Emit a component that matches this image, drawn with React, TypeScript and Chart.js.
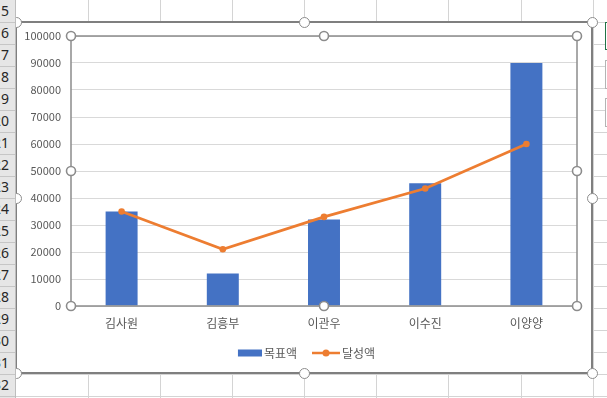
import React, { useEffect, useRef } from "react";
import { Chart, registerables } from "chart.js";

Chart.register(...registerables);

const categories = ["김사원", "김흥부", "이관우", "이수진", "이양양"];
const targetValues = [35000, 12000, 32000, 45500, 90000];
const achievedValues = [35000, 21000, 33000, 43500, 60000];
const seriesNames = ["목표액", "달성액"];
const yMin = 0;
const yMax = 100000;
const yStep = 10000;
const rowNumbers = [15, 16, 17, 18, 19, 20, 21, 22, 23, 24, 25, 26, 27, 28, 29, 30, 31, 32];

const BAR_COLOR = "#4472C4";
const LINE_COLOR = "#ED7D31";
const FONT = "'Noto Sans CJK KR', 'Noto Sans', sans-serif";

const ROW_H = 22;
const COL_LINES = [88, 160, 232, 304, 376, 448, 521, 593];

const plotFrame = {
  id: "plotFrame",
  afterLayout(chart: any) {
    const lg = chart.legend;
    if (lg) {
      lg.left += 9.5;
      lg.right += 9.5;
      lg.top -= 8;
      lg.bottom -= 8;
    }
  },
  afterDraw(chart: any) {
    const { ctx, chartArea: a } = chart;
    ctx.save();
    ctx.strokeStyle = "#8c8c8c";
    ctx.lineWidth = 1.5;
    ctx.strokeRect(a.left, a.top, a.right - a.left, a.bottom - a.top);
    const cx = (a.left + a.right) / 2;
    const cy = (a.top + a.bottom) / 2;
    const pts = [
      [a.left, a.top], [cx, a.top], [a.right, a.top],
      [a.left, cy], [a.right, cy],
      [a.left, a.bottom], [cx, a.bottom], [a.right, a.bottom],
    ];
    for (const [x, y] of pts) {
      ctx.beginPath();
      ctx.arc(x, y, 4.5, 0, Math.PI * 2);
      ctx.fillStyle = "#ffffff";
      ctx.fill();
      ctx.lineWidth = 1.6;
      ctx.strokeStyle = "#8c8c8c";
      ctx.stroke();
    }
    ctx.restore();
  },
};

// legend icons (drawn centred on a 20px legend box)
function makeBarIcon() {
  const c = document.createElement("canvas");
  c.width = 28;
  c.height = 8;
  const g = c.getContext("2d")!;
  g.fillStyle = BAR_COLOR;
  g.fillRect(4, 0.5, 24, 7);
  return c;
}

function makeLineIcon() {
  const c = document.createElement("canvas");
  c.width = 28;
  c.height = 8;
  const g = c.getContext("2d")!;
  g.strokeStyle = LINE_COLOR;
  g.lineWidth = 2.5;
  g.beginPath();
  g.moveTo(0, 4);
  g.lineTo(28, 4);
  g.stroke();
  g.fillStyle = LINE_COLOR;
  g.beginPath();
  g.arc(14, 4, 3.5, 0, Math.PI * 2);
  g.fill();
  return c;
}

function ChartBox() {
  const ref = useRef<HTMLCanvasElement | null>(null);
  useEffect(() => {
    if (!ref.current) return;
    const barIcon = makeBarIcon();
    const lineIcon = makeLineIcon();
    const chart = new Chart(ref.current, {
      type: "bar",
      data: {
        labels: categories,
        datasets: [
          {
            type: "bar",
            label: seriesNames[0],
            data: targetValues,
            backgroundColor: BAR_COLOR,
            borderWidth: 0,
            categoryPercentage: 1,
            barPercentage: 0.316,
            order: 1,
          } as any,
          {
            type: "line",
            label: seriesNames[1],
            data: achievedValues,
            borderColor: LINE_COLOR,
            backgroundColor: LINE_COLOR,
            borderWidth: 2.75,
            pointRadius: 3.3,
            pointBackgroundColor: LINE_COLOR,
            pointBorderWidth: 0,
            tension: 0,
            order: 0,
          } as any,
        ],
      },
      options: {
        animation: false,
        responsive: false,
        maintainAspectRatio: false,
        layout: { padding: { top: 13, right: 14, left: 0, bottom: 0 } },
        font: { family: FONT },
        plugins: {
          tooltip: { enabled: false },
          legend: {
            position: "bottom",
            labels: {
              usePointStyle: true,
              pointStyleWidth: 20,
              padding: 19,
              color: "#595959",
              font: { family: FONT, size: 12 },
              generateLabels: () => [
                { text: seriesNames[0], pointStyle: barIcon as any, datasetIndex: 0, fontColor: "#595959", hidden: false, lineWidth: 0 },
                { text: seriesNames[1], pointStyle: lineIcon as any, datasetIndex: 1, fontColor: "#595959", hidden: false, lineWidth: 0 },
              ],
            },
          },
        },
        scales: {
          x: {
            grid: { display: false, drawTicks: false },
            border: { display: false },
            ticks: { color: "#595959", font: { family: FONT, size: 12 }, padding: 10 },
            afterFit: (s: any) => { s.height = 30; },
          },
          y: {
            min: yMin,
            max: yMax,
            grid: { color: "#d9d9d9", lineWidth: 1, drawTicks: false },
            border: { display: false },
            ticks: {
              stepSize: yStep,
              color: "#595959",
              font: { family: FONT, size: 11, lineHeight: 0.4 },
              padding: 10,
              callback: (v: any) => String(v),
            },
            afterFit: (s: any) => { s.width = 54; },
          },
        },
      } as any,
      plugins: [plotFrame],
    });
    return () => chart.destroy();
  }, []);
  return <canvas ref={ref} width={574} height={354} style={{ position: "absolute", left: 17, top: 23, width: 574, height: 354 }} />;
}

const handle = (x: number, y: number, key: string) => (
  <div
    key={key}
    style={{
      position: "absolute",
      left: x - 5.5,
      top: y - 5.5,
      width: 11,
      height: 11,
      boxSizing: "border-box",
      borderRadius: "50%",
      border: "1.6px solid #8c8c8c",
      background: "#ffffff",
      zIndex: 3,
    }}
  />
);

export default function App() {
  useEffect(() => {
    document.body.style.margin = "0";
  }, []);
  const rowLines: number[] = [];
  for (let y = ROW_H; y <= 398; y += ROW_H) rowLines.push(y);
  return (
    <div style={{ position: "fixed", left: 0, top: 0, width: 607, height: 398, overflow: "hidden", background: "#ffffff", fontFamily: FONT }}>
      {rowLines.map((y) => (
        <div key={"r" + y} style={{ position: "absolute", left: 16, top: y, width: 591, height: 1, background: "#d4d4d4" }} />
      ))}
      {COL_LINES.map((x) => (
        <div key={"c" + x} style={{ position: "absolute", left: x, top: 0, width: 1, height: 398, background: "#d4d4d4" }} />
      ))}
      {/* side buttons */}
      <div style={{ position: "absolute", left: 605, top: 22, width: 30, height: 28, boxSizing: "border-box", border: "1px solid #217346", background: "#fff" }} />
      <div style={{ position: "absolute", left: 605, top: 60, width: 30, height: 29, boxSizing: "border-box", border: "1px solid #b4b4b4", background: "#fff" }} />
      <div style={{ position: "absolute", left: 605, top: 98, width: 30, height: 29, boxSizing: "border-box", border: "1px solid #b4b4b4", background: "#fff" }} />
      {/* chart frame */}
      <div style={{ position: "absolute", left: 15, top: 21, width: 578, height: 353, boxSizing: "border-box", border: "2px solid #7f7f7f", background: "#ffffff" }} />
      <ChartBox />
      {handle(16, 22, "h1")}
      {handle(304, 22, "h2")}
      {handle(592, 22, "h3")}
      {handle(16, 198, "h4")}
      {handle(592, 198, "h5")}
      {handle(16, 373, "h6")}
      {handle(304, 373, "h7")}
      {handle(592, 373, "h8")}
      {/* row header */}
      <div style={{ position: "absolute", left: 0, top: 0, width: 16, height: 398, background: "#e6e6e6", borderRight: "1px solid #bdbdbd", boxSizing: "border-box", overflow: "hidden", zIndex: 5 }}>
        {rowNumbers.map((n, i) => (
          <div key={"n" + n} style={{ position: "absolute", right: 6, top: i * ROW_H, height: ROW_H, lineHeight: ROW_H + "px", fontSize: 14, color: "#262626", whiteSpace: "nowrap", fontFamily: "'Noto Sans', sans-serif" }}>
            {n}
          </div>
        ))}
        {rowLines.map((y) => (
          <div key={"hr" + y} style={{ position: "absolute", left: 0, top: y, width: 16, height: 1, background: "#c6c6c6" }} />
        ))}
      </div>
    </div>
  );
}
